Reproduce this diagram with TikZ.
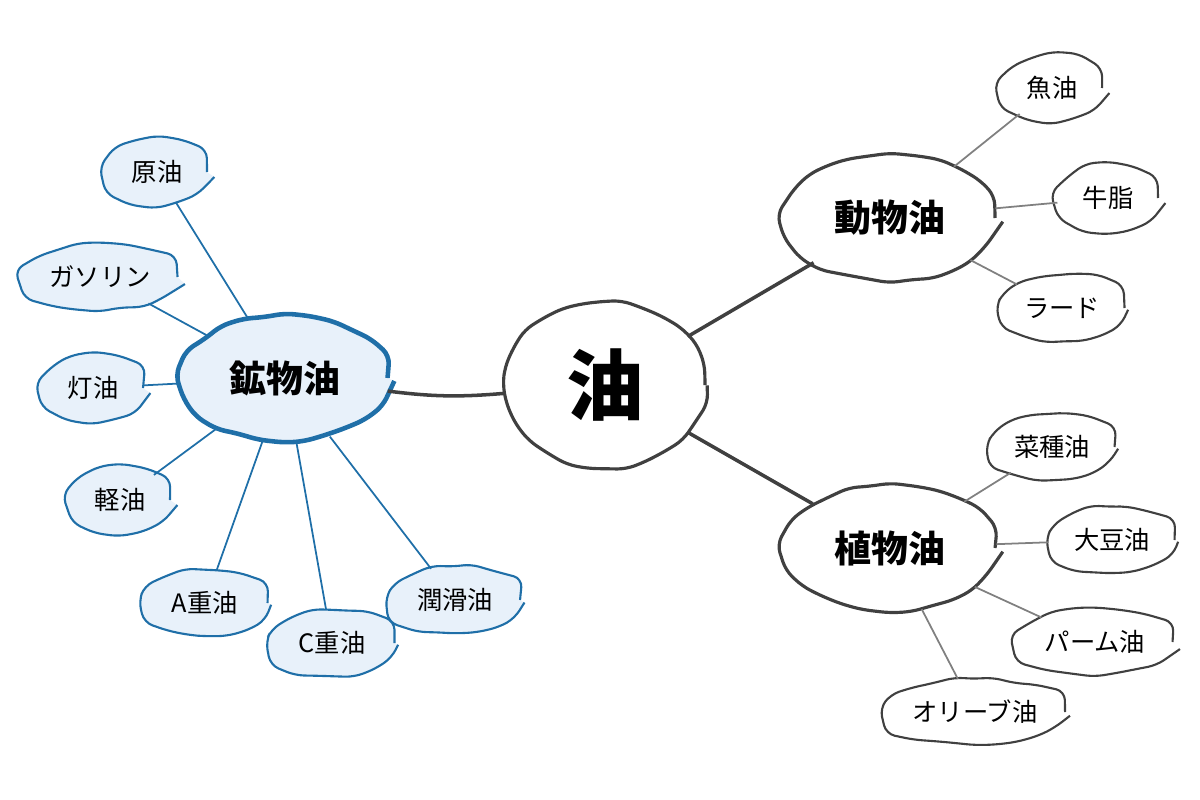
\documentclass[tikz,border=0pt]{standalone}
\usepackage{fontspec}
\setmainfont{Noto Sans CJK JP}
\usetikzlibrary{shapes.geometric,decorations.pathmorphing}
\definecolor{minblue}{HTML}{1F6FA8}
\definecolor{minfill}{HTML}{E8F1FA}
\definecolor{hubgray}{HTML}{404040}
\tikzset{
  wobble/.style={decorate, decoration={random steps, segment length=6pt, amplitude=0.6pt}, rounded corners=2.5pt},
  blob/.style={ellipse, draw=hubgray, line width=0.9pt, fill=white, inner sep=0pt, wobble},
  leaf/.style={blob, line width=0.6pt, minimum height=0.65cm, font=\fontsize{7.2}{8}\selectfont},
  bleaf/.style={leaf, draw=minblue, fill=minfill},
  hub/.style={blob, minimum width=2.1cm, minimum height=1.25cm, font=\fontsize{10.5}{12}\bfseries\selectfont},
}
\begin{document}
\pgfmathsetseed{7}
\begin{tikzpicture}[x=0.01cm, y=-0.01cm]
  \useasboundingbox (0,0) rectangle (1200,800);
  % Nodes
  \draw (605,385) node(oil) [blob, minimum width=2cm, minimum height=1.65cm, font=\fontsize{22}{24}\bfseries\selectfont] {油};
  \draw (285,378) node(min) [hub, draw=minblue, fill=minfill, line width=1.3pt, minimum width=2.05cm] {鉱物油};
  \draw (890,218) node(ani) [hub] {動物油};
  \draw (890,548) node(veg) [hub] {植物油};

  \draw (157,172) node(m1) [bleaf, minimum width=1.0cm] {原油};
  \draw (100,277) node(m2) [bleaf, minimum width=1.55cm] {ガソリン};
  \draw (93,388)  node(m3) [bleaf, minimum width=1.0cm] {灯油};
  \draw (120,500) node(m4) [bleaf, minimum width=1.0cm] {軽油};
  \draw (205,603) node(m5) [bleaf, minimum width=1.25cm] {A重油};
  \draw (332,643) node(m6) [bleaf, minimum width=1.25cm] {C重油};
  \draw (455,600) node(m7) [bleaf, minimum width=1.3cm] {潤滑油};

  \draw (1052,88)  node(a1) [leaf, minimum width=1.0cm] {魚油};
  \draw (1108,198) node(a2) [leaf, minimum width=1.0cm] {牛脂};
  \draw (1062,308) node(a3) [leaf, minimum width=1.25cm] {ラード};

  \draw (1052,447) node(v1) [leaf, minimum width=1.25cm] {菜種油};
  \draw (1112,540) node(v2) [leaf, minimum width=1.25cm] {大豆油};
  \draw (1095,642) node(v3) [leaf, minimum width=1.55cm] {パーム油};
  \draw (975,712)  node(v4) [leaf, minimum width=1.8cm] {オリーブ油};

  % Edges
  \begin{scope}[on background layer/.style={}]
  \path[draw=hubgray, line width=1pt] (oil) edge[bend left=6] (min) (oil) edge (ani) (oil) edge (veg);
  \foreach \n in {m1,m2,m3,m4,m5,m6,m7}
    \path[draw=minblue, line width=0.5pt] (min) edge (\n);
  \foreach \n in {a1,a2,a3}
    \path[draw=gray, line width=0.5pt] (ani) edge (\n);
  \foreach \n in {v1,v2,v3,v4}
    \path[draw=gray, line width=0.5pt] (veg) edge (\n);
  \end{scope}
\end{tikzpicture}
\end{document}
